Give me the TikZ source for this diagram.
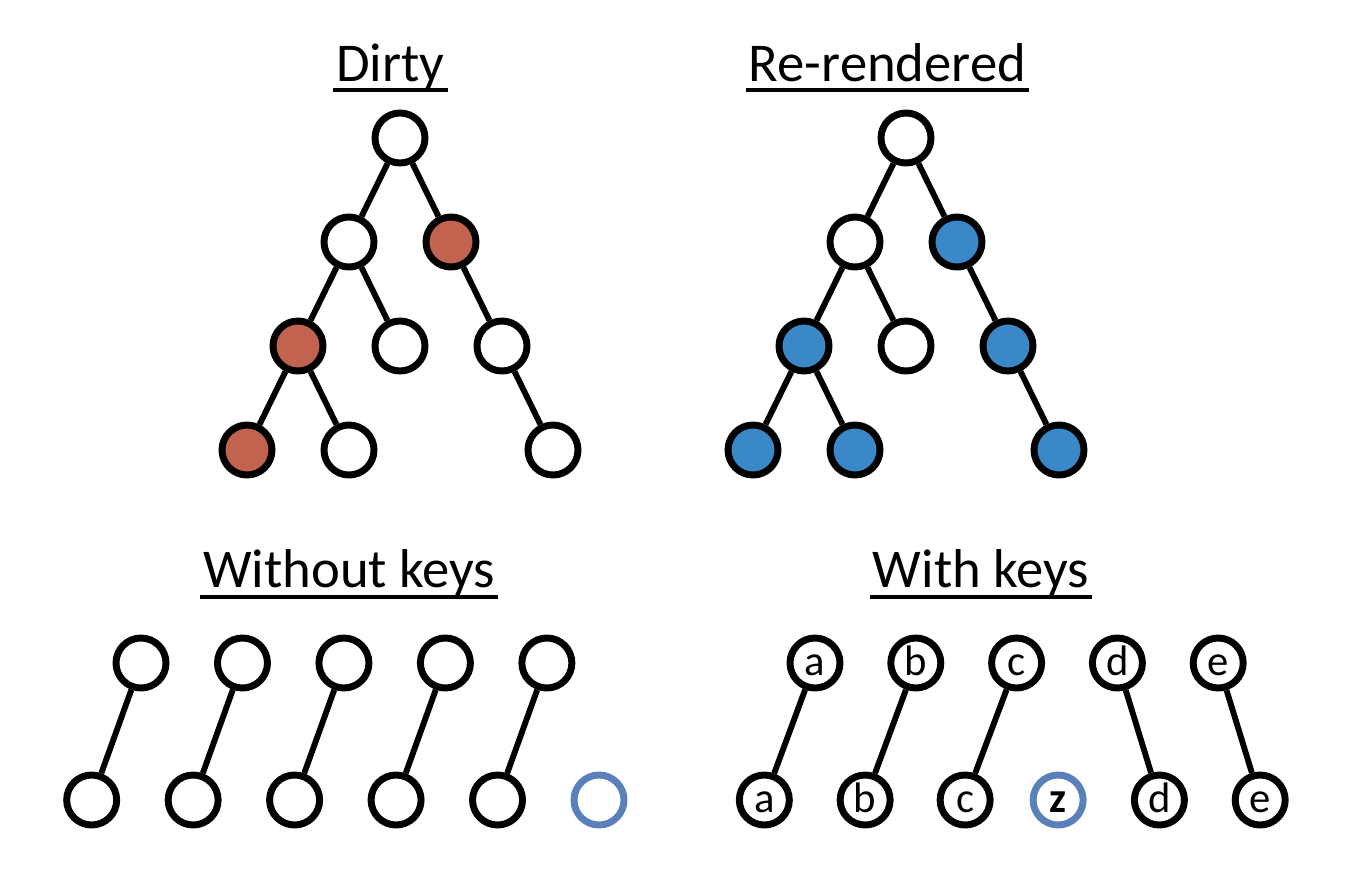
\documentclass[tikz,border=0pt]{standalone}
\usepackage{fontspec}
\setmainfont{Carlito}
\usetikzlibrary{positioning}

\definecolor{dirtyred}{RGB}{193,99,78}
\definecolor{renderblue}{RGB}{58,136,200}
\definecolor{newblue}{RGB}{91,128,185}

\begin{document}
\begin{tikzpicture}[x=0.75pt, y=-0.75pt,
    vnode/.style = {draw, circle, line width=5.2pt, minimum size=37.5pt, inner sep=0pt, fill=white,
                    text height=19pt, text depth=0pt, font=\fontsize{32}{32}\selectfont},
    dirty/.style = {vnode, fill=dirtyred},
    redrawn/.style = {vnode, fill=renderblue},
    added/.style = {vnode, draw=newblue},
    title/.style = {anchor=base, inner xsep=2pt, inner ysep=0pt, font=\fontsize{41}{41}\selectfont},
    edge/.style = {line width=4.4pt},
    uline/.style = {line width=3pt},
    node distance = 78pt and 38.25pt, on grid]
    \useasboundingbox (0,0) rectangle (1350,886);

    % titles
    \node[title](dirtyT) at (390.5,81) {Dirty};
    \node[title](renderT) at (887.5,81) {Re-rendered};
    \node[title](nokeyT) at (349,587) {Without keys};
    \node[title](keyT) at (981,587) {With keys};
    \draw[uline] ([yshift=-6.5pt]dirtyT.base west) -- ([yshift=-6.5pt]dirtyT.base east);
    \draw[uline] ([yshift=-6.5pt]renderT.base west) -- ([yshift=-6.5pt]renderT.base east);
    \draw[uline] ([yshift=-7.5pt]nokeyT.base west) -- ([yshift=-7.5pt]nokeyT.base east);
    \draw[uline] ([yshift=-7.5pt]keyT.base west) -- ([yshift=-7.5pt]keyT.base east);

    % dirty tree
    \node[vnode](d1) at (400,138) {};
    \node[vnode](d2)[below left=of d1] {};
    \node[dirty](d3)[below right=of d1] {};
    \node[dirty](d4)[below left=of d2] {};
    \node[vnode](d5)[below right=of d2] {};
    \node[vnode](d6)[below right=of d3] {};
    \node[dirty](d7)[below left=of d4] {};
    \node[vnode](d8)[below right=of d4] {};
    \node[vnode](d9)[below right=of d6] {};
    \draw[edge] (d1) -- (d2) -- (d4) -- (d7);
    \draw[edge] (d1) -- (d3) -- (d6) -- (d9);
    \draw[edge] (d2) -- (d5);
    \draw[edge] (d4) -- (d8);

    % re-rendered tree
    \node[vnode](r1) at (906,138) {};
    \node[vnode](r2)[below left=of r1] {};
    \node[redrawn](r3)[below right=of r1] {};
    \node[redrawn](r4)[below left=of r2] {};
    \node[vnode](r5)[below right=of r2] {};
    \node[redrawn](r6)[below right=of r3] {};
    \node[redrawn](r7)[below left=of r4] {};
    \node[redrawn](r8)[below right=of r4] {};
    \node[redrawn](r9)[below right=of r6] {};
    \draw[edge] (r1) -- (r2) -- (r4) -- (r7);
    \draw[edge] (r1) -- (r3) -- (r6) -- (r9);
    \draw[edge] (r2) -- (r5);
    \draw[edge] (r4) -- (r8);

    % without keys
    \node[vnode](w1) at (141,663) {};
    \node[vnode](w2)[right=76.1pt of w1] {};
    \node[vnode](w3)[right=76.1pt of w2] {};
    \node[vnode](w4)[right=76.1pt of w3] {};
    \node[vnode](w5)[right=76.1pt of w4] {};
    \node[vnode](wb1)[below left=102.75pt and 37pt of w1] {};
    \node[vnode](wb2)[right=76.1pt of wb1] {};
    \node[vnode](wb3)[right=76.1pt of wb2] {};
    \node[vnode](wb4)[right=76.1pt of wb3] {};
    \node[vnode](wb5)[right=76.1pt of wb4] {};
    \node[added](wb6)[right=76.1pt of wb5] {};
    \draw[edge] (w1) -- (wb1);
    \draw[edge] (w2) -- (wb2);
    \draw[edge] (w3) -- (wb3);
    \draw[edge] (w4) -- (wb4);
    \draw[edge] (w5) -- (wb5);

    % with keys
    \node[vnode](ka) at (815,663) {a};
    \node[vnode](kb)[right=75.6pt of ka] {b};
    \node[vnode](kc)[right=75.6pt of kb] {c};
    \node[vnode](kd)[right=75.6pt of kc] {d};
    \node[vnode](ke)[right=75.6pt of kd] {e};
    \node[vnode](kba)[below left=102.75pt and 38pt of ka] {a};
    \node[vnode](kbb)[right=75.6pt of kba] {b};
    \node[vnode](kbc)[right=75pt of kbb] {c};
    \node[added](kbz)[right=69.75pt of kbc] {\textbf{z}};
    \node[vnode](kbd)[below right=102.75pt and 31.5pt of kd] {d};
    \node[vnode](kbe)[below right=102.75pt and 31.5pt of ke] {e};
    \draw[edge] (ka) -- (kba);
    \draw[edge] (kb) -- (kbb);
    \draw[edge] (kc) -- (kbc);
    \draw[edge] (kd) -- (kbd);
    \draw[edge] (ke) -- (kbe);
\end{tikzpicture}
\end{document}
